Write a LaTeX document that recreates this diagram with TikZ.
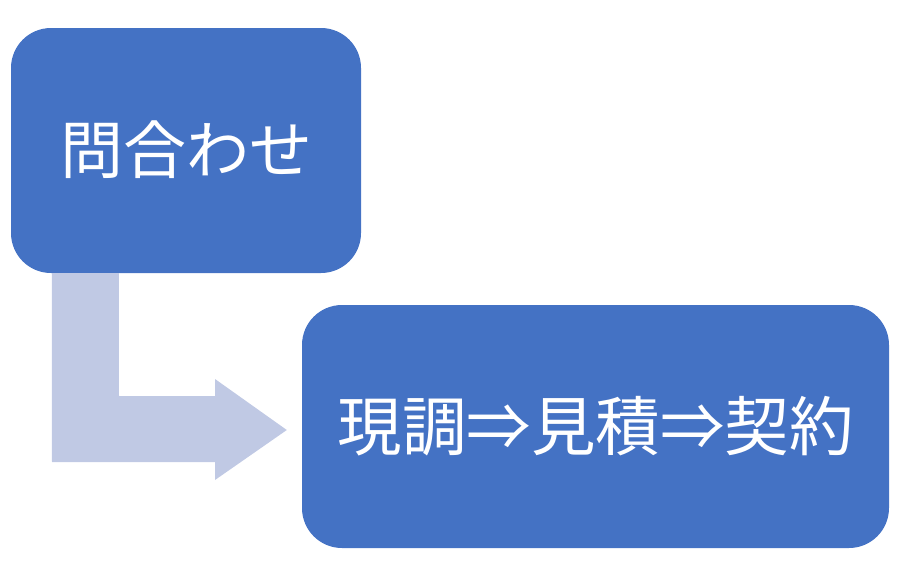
\documentclass[tikz,border=0pt]{standalone}
\usepackage{fontspec}
\setmainfont{Noto Sans CJK JP}
\usetikzlibrary{positioning}

\definecolor{boxblue}{HTML}{4472C4}
\definecolor{arrowgrey}{HTML}{C0C9E4}

\begin{document}
\begin{tikzpicture}[x=1pt,y=-1pt,
  step box/.style={rectangle,rounded corners=40pt,fill=boxblue,text=white,
    font=\fontsize{63pt}{70pt}\selectfont,inner sep=0pt}]
  \useasboundingbox (0,0) rectangle (911,576);
  \node[step box,minimum width=350pt,minimum height=245pt] (ask)      at (186,150.5) {\raisebox{6pt}{問合わせ}};
  \node[step box,minimum width=587pt,minimum height=243pt,
    font=\fontsize{64.5pt}{70pt}\selectfont] (contract) at (595.5,426.5) {\raisebox{4pt}{現調⇒見積⇒契約}};
  % bent arrow from ask to contract
  \coordinate (tip) at ([xshift=-15pt]contract.west |- 0,430);
  \fill[arrowgrey]
    ([xshift=41pt]ask.south west) -- ([xshift=108pt]ask.south west)
    -- (119,396) -- (215,396) -- (215,379) -- (tip) -- (215,480) -- (215,462)
    -- (52,462) -- cycle;
\end{tikzpicture}
\end{document}
